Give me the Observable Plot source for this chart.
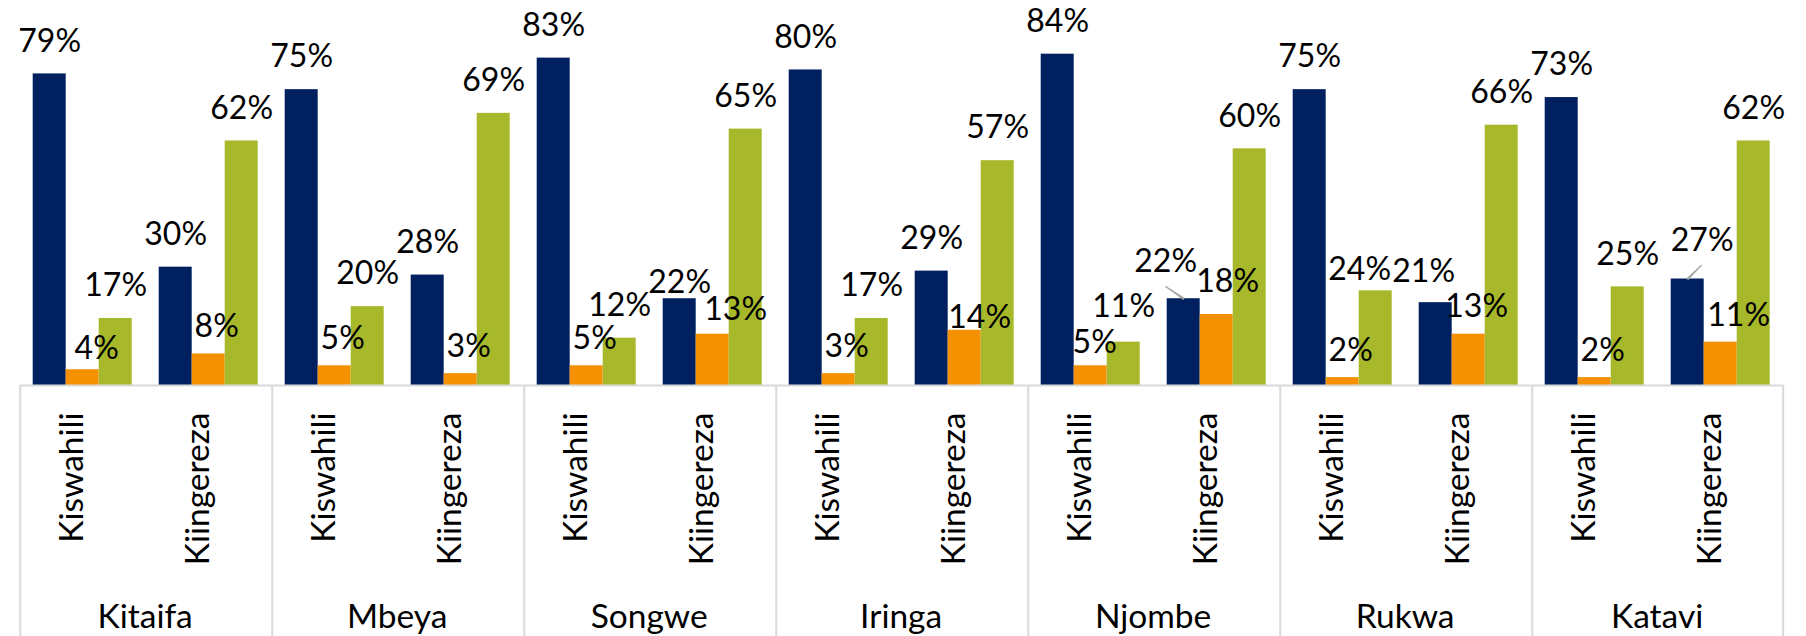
<!DOCTYPE html>
<html><head><meta charset="utf-8">
<script src="https://cdn.jsdelivr.net/npm/d3@7"></script>
<script src="https://cdn.jsdelivr.net/npm/@observablehq/plot@0.6"></script>
<style>html,body{margin:0;padding:0;background:#fff;} svg{display:block}</style>
</head><body><div id="chart"></div>
<script>
// ---- data ----
const regions = ["Kitaifa", "Mbeya", "Songwe", "Iringa", "Njombe", "Rukwa", "Katavi"];
const subjects = ["Kiswahili", "Kiingereza"];
const seriesNames = ["Series 1", "Series 2", "Series 3"];
// values in order: region x subject (Kiswahili, Kiingereza)
const series1 = [79, 30, 75, 28, 83, 22, 80, 29, 84, 22, 75, 21, 73, 27];
const series2 = [4, 8, 5, 3, 5, 13, 3, 14, 5, 18, 2, 13, 2, 11];
const series3 = [17, 62, 20, 69, 12, 65, 17, 57, 11, 60, 24, 66, 25, 62];
const colors = ["#002060", "#F59100", "#A8B82B"];

// label placement (pixel offsets from bar-top centre), default per series + a few manual nudges
const defaultOffset = [[0, -32.5], [8, -27], [0, -32.5]];
const labelOffsets = {
  "Kitaifa|Kiswahili|1": [14, -21],
  "Songwe|Kiingereza|0": [0, -16],
  "Songwe|Kiingereza|1": [23, -24],
  "Iringa|Kiingereza|1": [15, -13],
  "Njombe|Kiswahili|1": [4, -23],
  "Njombe|Kiswahili|2": [0, -35],
  "Njombe|Kiingereza|0": [-18, -36.5],
  "Njombe|Kiingereza|1": [11, -33],
  "Rukwa|Kiswahili|2": [-16, -21],
  "Rukwa|Kiingereza|0": [-12, -31],
  "Katavi|Kiingereza|0": [14.5, -38.5],
  "Katavi|Kiingereza|1": [18, -26]
};
// leader lines: [length px, angle deg]
const leaderLines = {"Njombe|Kiingereza": [21.7, -56], "Katavi|Kiingereza": [19.2, 45]};

const keys = regions.flatMap(r => subjects.map(s => r + "|" + s));
const allSeries = [series1, series2, series3];
const data = keys.flatMap((k, i) => allSeries.map((vals, j) => ({
  key: k, region: k.split("|")[0], subject: k.split("|")[1], series: seriesNames[j], si: j, value: vals[i]
})));
const firstKeys = keys.filter(k => k.endsWith("|" + subjects[0]));
const lastKey = [keys[keys.length - 1]];

// ---- layout ----
const W = 1806, H = 636, mL = 13.3, mR = 16.7, mT = 30, mB = 251;
const pIn = 0.196, pOut = 0.098;
const step = (W - mL - mR) / (keys.length - pIn + 2 * pOut);
const band = step * (1 - pIn);
const barW = band / 3;
const half = barW / 2 + step * pIn / 2;
const gapHalf = step * pIn / 2;
const grid = "#d9d9d9";
const font = "Lato, 'Open Sans', sans-serif";

const labelMarks = data.map(d => {
  const [dx, dy] = labelOffsets[d.key + "|" + d.si] ?? defaultOffset[d.si];
  return Plot.text([d], {fx: "key", x: "series", y: "value", text: d => d.value + "%", dx, dy, fontSize: 32, fill: "#000"});
});
const leaderMarks = Object.entries(leaderLines).map(([k, [len, ang]]) =>
  Plot.vector(data.filter(d => d.key === k && d.si === 0), {
    fx: "key", x: "series", y: "value", length: len, rotate: ang, anchor: "start",
    shape: "spike", r: 0.6, stroke: "#a6a6a6", strokeWidth: 1.3, fill: "none"
  })
);

const chart = Plot.plot({
  width: W, height: H,
  marginLeft: mL, marginRight: mR, marginTop: mT, marginBottom: mB,
  style: {fontFamily: font, background: "#fff", overflow: "visible"},
  fx: {domain: keys, paddingInner: pIn, paddingOuter: pOut, axis: null, label: null},
  x: {domain: seriesNames, padding: 0, axis: null},
  y: {domain: [0, 90], axis: null},
  color: {domain: seriesNames, range: colors},
  marks: [
    Plot.barY(data, {fx: "key", x: "series", y: "value", fill: "series"}),
    Plot.ruleY(keys, {fx: d => d, y: () => 0, stroke: grid, strokeWidth: 2, insetLeft: -gapHalf, insetRight: -gapHalf}),
    Plot.ruleX(firstKeys, {fx: d => d, x: () => seriesNames[0], y1: () => 0, y2: () => -70, dx: -half, stroke: grid, strokeWidth: 2}),
    Plot.ruleX(lastKey, {fx: d => d, x: () => seriesNames[2], y1: () => 0, y2: () => -70, dx: half, stroke: grid, strokeWidth: 2}),
    ...leaderMarks,
    ...labelMarks,
    Plot.text(keys, {fx: d => d, x: () => seriesNames[1], text: d => d.split("|")[1], frameAnchor: "bottom", rotate: -90, textAnchor: "end", dy: 27, fontSize: 33.5, fill: "#000"}),
    Plot.text(firstKeys, {fx: d => d, x: () => seriesNames[2], text: d => d.split("|")[0], frameAnchor: "bottom", dx: half, dy: 242, fontSize: 33.5, fill: "#000"})
  ]
});
document.getElementById("chart").append(chart);
</script>
</body></html>
